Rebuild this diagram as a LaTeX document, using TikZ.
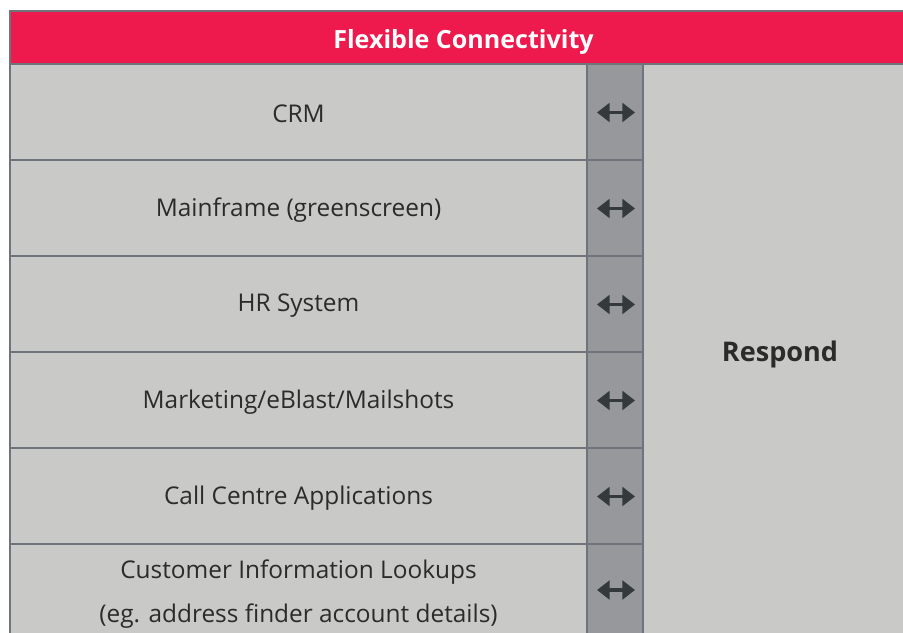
\documentclass[tikz,border=0pt]{standalone}
\usepackage{fontspec}
\setmainfont{Open Sans}
\usetikzlibrary{arrows.meta}
\definecolor{hdrred}{HTML}{EE1A4D}
\definecolor{cellgray}{HTML}{C9C9C7}
\definecolor{arrgray}{HTML}{97989B}
\definecolor{linegray}{HTML}{6E737C}
\definecolor{arrdark}{HTML}{33393C}
\definecolor{txtdark}{HTML}{2B2B2B}
\tikzset{
  cellbox/.style={draw=linegray, line width=1.65pt, fill=cellgray},
  arrbox/.style={draw=linegray, line width=1.65pt, fill=arrgray},
  celltext/.style={font=\fontsize{18.3}{33}\selectfont, text=txtdark, align=center},
  linkarrow/.style={arrdark, line width=2.6pt, {Triangle[length=9.5pt,width=14pt]}-{Triangle[length=9.5pt,width=14pt]}},
}
\begin{document}
\begin{tikzpicture}[x=0.75pt,y=-0.75pt]
\useasboundingbox (0,0) rectangle (903,632);
\fill[white] (0,0) rectangle (903,632);
\clip (0,0) rectangle (903,632);
% header
\filldraw[draw=linegray, line width=1.65pt, fill=hdrred] (10,11) rectangle (917,64);
\node[font=\fontsize{18.8}{20}\selectfont\bfseries, text=white] (hdr) at (463.5,42) {Flexible Connectivity};
% right column
\filldraw[cellbox] (643,64) rectangle (917,660);
\node[font=\fontsize{20.3}{22}\selectfont\bfseries, text=txtdark] (respond) at (780,354) {Respond};
% rows
\foreach \i/\t in {0/{CRM}, 1/{Mainframe (greenscreen)}, 2/{HR System}, 3/{Marketing/eBlast/Mailshots}, 4/{Call Centre Applications}} {
  \pgfmathsetmacro\ya{64+96*\i}
  \pgfmathsetmacro\yb{64+96*(\i+1)}
  \filldraw[cellbox] (10,\ya) rectangle (587,\yb);
  \filldraw[arrbox] (587,\ya) rectangle (643,\yb);
  \node[celltext] (row\i) at (298.5,{(\ya+\yb)/2+2}) {\t};
  \coordinate (al\i) at (597,{(\ya+\yb)/2+0.5});
  \coordinate (ar\i) at (635,{(\ya+\yb)/2+0.5});
  \draw[linkarrow] (al\i) -- (ar\i);
}
\filldraw[cellbox] (10,544) rectangle (587,660);
\filldraw[arrbox] (587,544) rectangle (643,660);
\node[celltext] (row5) at (298.5,594) {Customer Information Lookups\\(eg. address finder account details)};
\coordinate (al5) at (597,590);
\coordinate (ar5) at (635,590);
\draw[linkarrow] (al5) -- (ar5);
\end{tikzpicture}
\end{document}
